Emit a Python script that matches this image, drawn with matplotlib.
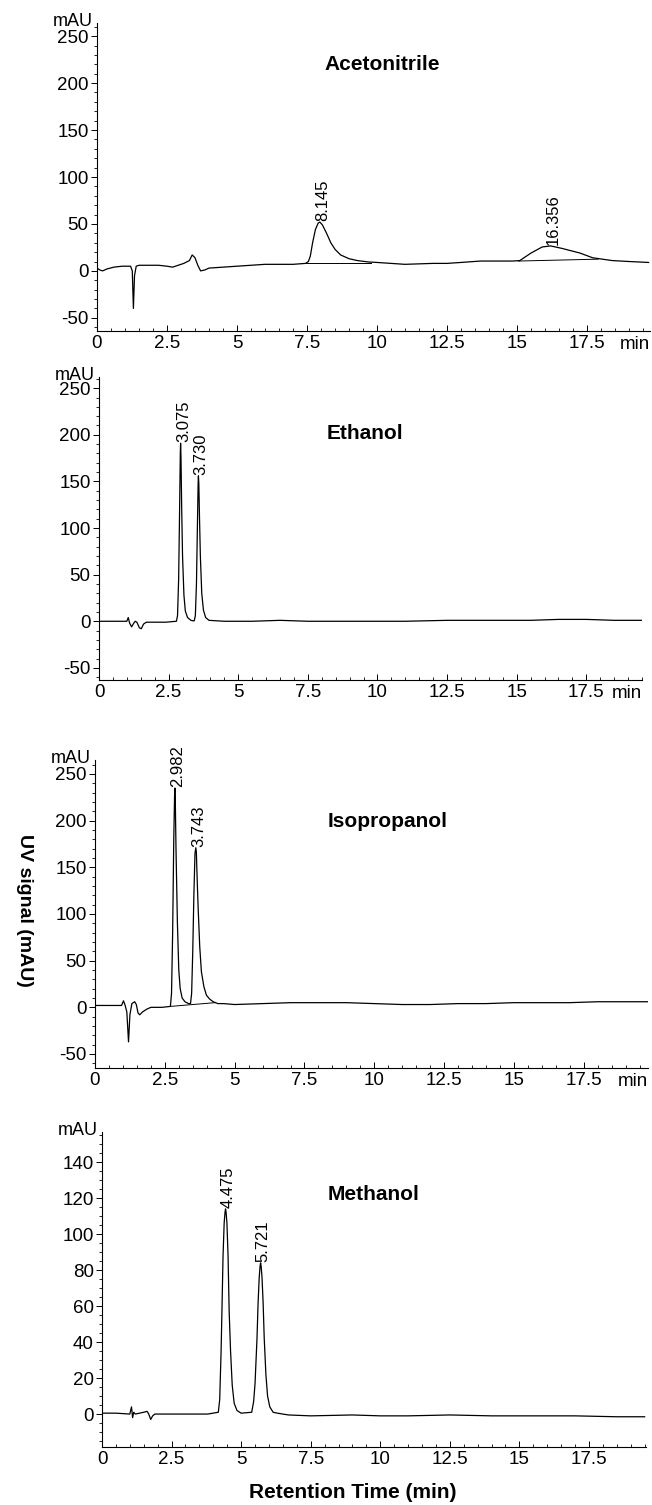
import numpy as np
import matplotlib
matplotlib.use("Agg")
import matplotlib.pyplot as plt
from matplotlib.ticker import MultipleLocator, FuncFormatter

plt.rcParams['font.family'] = ['Liberation Sans', 'DejaVu Sans']

# ---- traced chromatograms (time in min, signal in mAU) ----
acn_t = [0, 0.1, 0.2, 0.35, 0.6, 0.9, 1.2, 1.26, 1.3, 1.34, 1.4, 1.5, 1.8, 2.2, 2.5, 2.7,
         2.9, 3.1, 3.3, 3.4, 3.5, 3.6, 3.7, 3.85, 4.0, 4.5, 5.0, 5.5, 6.0, 6.5, 7.0, 7.45,
         7.55, 7.62, 7.7, 7.8, 7.9, 7.96, 8.05, 8.2, 8.35, 8.5, 8.7, 9.0, 9.3, 9.7, 10.0,
         10.5, 11.0, 11.5, 12.0, 12.5, 13.0, 13.7, 14.3, 14.85, 15.1, 15.5, 15.9, 16.2,
         16.6, 17.25, 17.7, 18.4, 19.0, 19.7]
acn_y = [3, 1, 0, 2, 4, 5, 5, 0, -40, -5, 5, 6, 6, 6, 5, 4,
         6, 8, 11, 17, 14, 6, 0, 1, 3, 4, 5, 6, 7, 7, 7, 8,
         10, 16, 30, 44, 51, 52, 49, 40, 30, 23, 17, 13, 11, 9.5, 9,
         8, 7, 7.5, 8, 8, 9, 10.5, 10.5, 10.5, 11, 19, 25.5, 26.6,
         24, 19, 14, 11, 10, 9]

eth_t = [0, 0.5, 1.0, 1.05, 1.1, 1.17, 1.25, 1.3, 1.36, 1.45, 1.52, 1.6, 1.7, 2.0, 2.4,
         2.78, 2.82, 2.86, 2.89, 2.92, 2.93, 2.945, 2.97, 3.0, 3.05, 3.1, 3.18, 3.3, 3.38,
         3.42, 3.46, 3.5, 3.53, 3.56, 3.57, 3.585, 3.61, 3.64, 3.69, 3.75, 3.83, 3.95, 4.5,
         5.5, 6.5, 7.5, 9.0, 11.0, 12.5, 14.0, 15.5, 16.5, 17.5, 18.5, 19.5]
eth_y = [0, 0, 0, 4, -2, -6, -2, 0, -1, -7, -8, -3, -1, -1, -1,
         0, 6, 45, 110, 180, 191, 175, 120, 70, 28, 11, 4, 1, 0.5,
         0.5, 6, 40, 95, 148, 156, 148, 110, 70, 30, 12, 4, 1, 0,
         0, 1, 0, 0, 0, 1, 1, 1, 2, 2, 1, 1]

ipa_t = [0, 0.5, 0.95, 1.02, 1.08, 1.14, 1.2, 1.25, 1.32, 1.42, 1.48, 1.54, 1.6, 1.7,
         1.85, 2.0, 2.4, 2.7, 2.74, 2.78, 2.82, 2.85, 2.86, 2.875, 2.9, 2.95, 3.0, 3.05,
         3.12, 3.22, 3.35, 3.42, 3.46, 3.5, 3.54, 3.58, 3.61, 3.63, 3.65, 3.69, 3.75, 3.81,
         3.9, 3.99, 4.1, 4.23, 4.4, 4.6, 5.0, 6.0, 7.0, 8.0, 9.0, 10.0, 11.0, 12.0, 13.0,
         14.0, 15.0, 16.0, 17.0, 18.0, 19.0, 19.8]
ipa_y = [2, 2, 2, 7, 2, -5, -37, -8, 4, 6, 3, -6, -8, -5,
         -2, 0, 0, 1, 15, 80, 180, 228, 235, 222, 170, 91, 40, 20,
         10, 6, 4, 4, 15, 60, 120, 165, 171, 166, 145, 109, 65, 38,
         22, 13, 9, 6, 4, 4, 3, 4, 5, 5, 5, 4, 3, 3, 4,
         4, 5, 5, 5, 6, 6, 6]

meoh_t = [0, 0.5, 1.0, 1.06, 1.1, 1.14, 1.2, 1.5, 1.62, 1.68, 1.75, 1.82, 1.9, 2.2,
          3.0, 3.8, 4.18, 4.23, 4.28, 4.31, 4.35, 4.39, 4.42, 4.44, 4.46, 4.49, 4.53,
          4.57, 4.62, 4.68, 4.75, 4.85, 5.0, 5.38, 5.45, 5.5, 5.57, 5.61, 5.65, 5.68,
          5.7, 5.72, 5.75, 5.79, 5.83, 5.89, 5.95, 6.03, 6.15, 6.3, 6.7, 7.5, 9.0, 10.0,
          11.0, 12.5, 14.0, 15.5, 17.0, 18.5, 19.5]
meoh_y = [0.5, 0.5, 0, 4, -2, 1, 0, 1, 1.5, 0, -3, -1, 0, 0,
          0, 0, 1, 8, 35, 57, 88, 106, 112, 114, 112, 106, 88,
          57, 35, 16, 6, 2, 0.5, 1, 7, 17, 42, 62, 76, 82,
          84, 82, 76, 62, 42, 22, 10, 4, 1, 0.5, -0.5, -1, -0.5, -1,
          -1, -0.5, -1, -1, -1, -1.5, -1.5]

# integration baselines drawn under peaks: (t0, y0, t1, y1)
acn_base = [(7.45, 8, 9.8, 8), (15.05, 10.5, 17.9, 12.5)]
ipa_base = [(2.7, 1, 4.3, 5)]

# peak labels and apex times
acn_pk = (['8.145', '16.356'], [7.96, 16.2])
eth_pk = (['3.075', '3.730'], [2.93, 3.57])
ipa_pk = (['2.982', '3.743'], [2.86, 3.61])
meoh_pk = (['4.475', '5.721'], [4.44, 5.7])

W, H = 652, 1505
panels = [
    # name, t, y, peaks, baselines, (left, right, top, bottom px), xmax, ylim, major, minor, title pos
    ('Acetonitrile', acn_t, acn_y, acn_pk, acn_base, (97, 650, 23, 331), 19.75, (-64, 264), 50, 10, (0.412, 0.864), True),
    ('Ethanol', eth_t, eth_y, eth_pk, [], (99, 642, 377, 680), 19.5, (-63, 262), 50, 10, (0.42, 0.812), True),
    ('Isopropanol', ipa_t, ipa_y, ipa_pk, ipa_base, (95, 648, 760, 1068), 19.8, (-65, 265), 50, 10, (0.42, 0.80), True),
    ('Methanol', meoh_t, meoh_y, meoh_pk, [], (102, 646, 1132, 1447), 19.55, (-18.3, 156.7), 20, 5, (0.414, 0.803), False),
]

fig = plt.figure(figsize=(W / 100, H / 100), dpi=100)

for name, t, y, pk, bases, box, xmax, ylim, major, minor, tpos, show_min in panels:
    l, r, top, bot = box
    ax = fig.add_axes([l / W, 1 - bot / H, (r - l) / W, (bot - top) / H])
    ax.plot(t, y, color='black', lw=0.9)
    for t0, y0, t1, y1 in bases:
        ax.plot([t0, t1], [y0, y1], color='black', lw=0.7)
    for lab, tp in zip(*pk):
        yp = np.interp(tp, t, y)
        ax.annotate(lab, xy=(tp, yp), xytext=(2, 0.5), textcoords='offset points',
                    rotation=90, ha='center', va='bottom', fontsize=12)
    ax.set_xlim(0, xmax)
    ax.set_ylim(*ylim)
    for s in ['top', 'right']:
        ax.spines[s].set_visible(False)
    ax.spines['left'].set_linewidth(0.8)
    ax.spines['bottom'].set_linewidth(0.8)
    ax.xaxis.set_major_locator(MultipleLocator(2.5))
    ax.xaxis.set_minor_locator(MultipleLocator(0.5))
    ax.xaxis.set_major_formatter(FuncFormatter(lambda v, p: '%g' % v))
    ax.yaxis.set_major_locator(MultipleLocator(major))
    ax.yaxis.set_minor_locator(MultipleLocator(minor))
    ax.yaxis.set_major_formatter(FuncFormatter(lambda v, p: '%g' % v))
    ax.tick_params(axis='x', which='major', direction='in', length=4, width=0.7, pad=3, labelsize=13.5)
    ax.tick_params(axis='x', which='minor', direction='in', length=2, width=0.6)
    ax.tick_params(axis='y', which='major', direction='out', length=4, width=0.7, pad=2, labelsize=13.5)
    ax.tick_params(axis='y', which='minor', direction='out', length=2, width=0.6)
    ax.annotate('mAU', xy=(0, 1), xycoords='axes fraction', xytext=(-3, 1),
                textcoords='offset points', ha='right', va='center', fontsize=13)
    if show_min:
        ax.annotate('min', xy=(1, 0), xycoords='axes fraction', xytext=(0, -3.5),
                    textcoords='offset points', ha='right', va='top', fontsize=13.5)
    ax.text(tpos[0], tpos[1], name, transform=ax.transAxes, ha='left', va='center',
            fontsize=15, fontweight='bold')

fig.text(0.038, 1 - 910 / H, 'UV signal (mAU)', rotation=-90, ha='center', va='center',
         fontsize=14, fontweight='bold')
fig.text(0.541, 1 - 1493 / H, 'Retention Time (min)', ha='center', va='center',
         fontsize=15, fontweight='bold')

fig.savefig('out.png', dpi=100)
